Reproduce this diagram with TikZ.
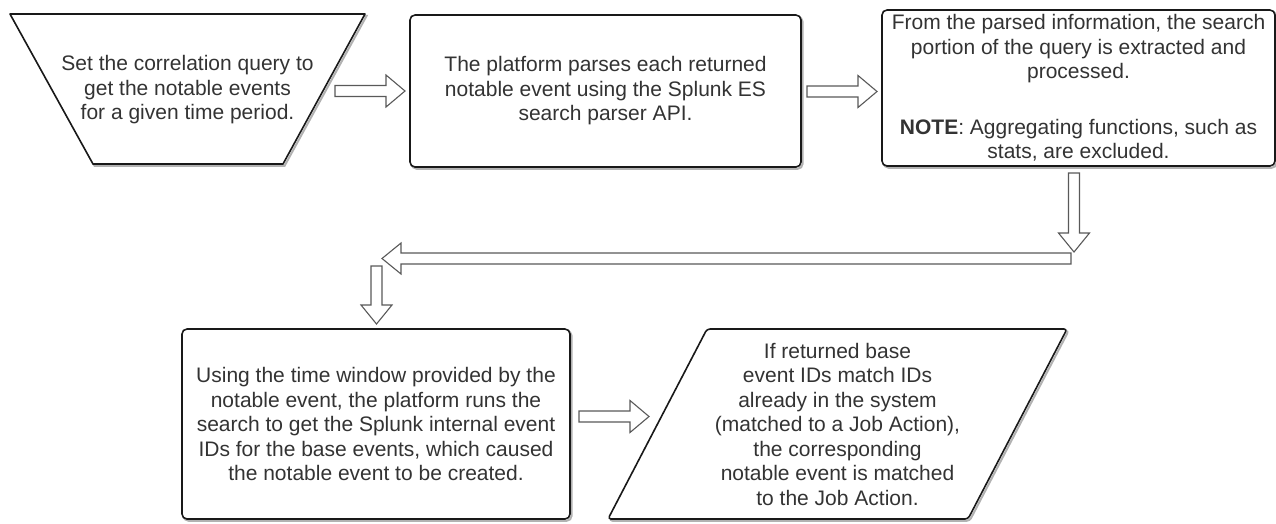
\documentclass[tikz,border=0pt]{standalone}
\usepackage{fontspec}
\setmainfont{Liberation Sans}
\tikzset{
  shapeline/.style={draw=black!90, line width=1.6pt, fill=white, line join=round,
    preaction={draw=black!30, line width=2pt, transform canvas={shift={(1.6pt,-1.8pt)}}}},
  boxnode/.style={shapeline, rounded corners=5pt, align=center, inner sep=0pt, text=black!80},
  txt/.style={align=center, inner sep=0pt, text=black!80},
  blockarrow/.style={draw=black!65, line width=1.1pt, fill=white, line join=miter},
}
\newcommand\rblock[3]{% tail x, tip x, centre y : pointing right
  \draw[blockarrow] (#1,#3-5.5) -- (#2-19,#3-5.5) -- (#2-19,#3-16) -- (#2,#3)
    -- (#2-19,#3+16) -- (#2-19,#3+5.5) -- (#1,#3+5.5) -- cycle;}
\newcommand\lblock[3]{% tail x, tip x, centre y : pointing left
  \draw[blockarrow] (#1,#3-5.5) -- (#2+19,#3-5.5) -- (#2+19,#3-15.5) -- (#2,#3)
    -- (#2+19,#3+15.5) -- (#2+19,#3+5.5) -- (#1,#3+5.5) -- cycle;}
\newcommand\dblock[3]{% tail y, tip y, centre x : pointing down
  \draw[blockarrow] (#3-5.5,#1) -- (#3-5.5,#2-19) -- (#3-15.5,#2-19) -- (#3,#2)
    -- (#3+15.5,#2-19) -- (#3+5.5,#2-19) -- (#3+5.5,#1) -- cycle;}
\begin{document}
\begin{tikzpicture}[x=1pt,y=-1pt,
  every node/.style={font=\fontsize{21}{24.5}\selectfont}]
\useasboundingbox (0,0) rectangle (1276,523);

% 1: trapezoid (manual input)
\path[shapeline] (10,14) -- (365,14) -- (283,164) -- (93,164) -- cycle;
\node[txt] (t1) at (187.5,90) {Set the correlation query to\\get the notable events\\for a given time period.};

% 2: process box
\node[boxnode, minimum width=391pt, minimum height=152pt] (b2) at (605.5,91)
  {The platform parses each returned\\notable event using the Splunk ES\\search parser API.};

% 3: process box
\node[boxnode, minimum width=393pt, minimum height=156pt] (b3) at (1078.5,88)
  {From the parsed information, the search\\portion of the query is extracted and\\processed.\\[31pt]
   \textbf{NOTE}: Aggregating functions, such as\\stats, are excluded.};

% 4: process box
\node[boxnode, minimum width=388pt, minimum height=190pt] (b4) at (376,424)
  {Using the time window provided by the\\notable event, the platform runs the\\search to get the Splunk internal event\\IDs for the base events, which caused\\the notable event to be created.};

% 5: parallelogram (data)
\path[shapeline, rounded corners=3pt] (707,329) -- (1067,329) -- (968,519) -- (608,519) -- cycle;
\node[txt] (t5) at (837.5,424) {If returned base\\event IDs match IDs\\already in the system\\(matched to a Job Action),\\the corresponding\\notable event is matched\\to the Job Action.};

% block arrows
\rblock{335}{405}{91}
\rblock{807}{877}{91.5}
\dblock{173}{252}{1074}
\lblock{1071}{382}{258.5}
\dblock{266}{324}{376.5}
\rblock{579}{649}{416.5}
\end{tikzpicture}
\end{document}
